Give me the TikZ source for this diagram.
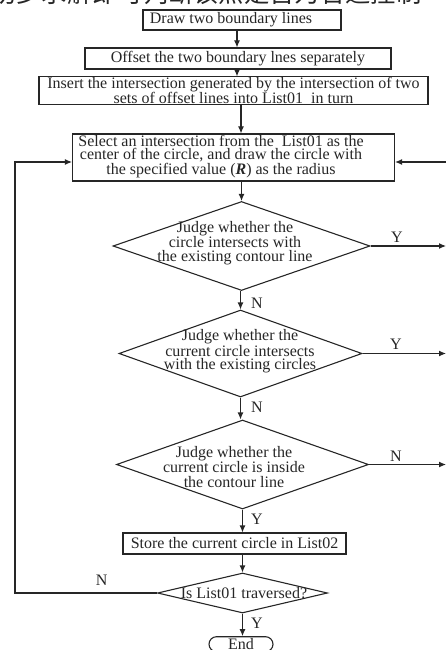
\documentclass[tikz,border=0pt]{standalone}
\usepackage{fontspec}
\setmainfont{Liberation Serif}
\newfontfamily\cjk{Noto Sans CJK SC}
\usetikzlibrary{shapes.geometric,shapes.misc,arrows.meta}
\definecolor{ink}{HTML}{262626}
\begin{document}
\begin{tikzpicture}[x=1pt,y=-1pt,
  every node/.style={text=ink},
  procbox/.style={draw=ink, line width=1.1pt, inner sep=0pt, align=center,
    font=\fontsize{16}{15}\selectfont},
  dia/.style={draw=ink, diamond, line width=1.1pt, inner sep=0pt},
  txt/.style={inner sep=0pt, align=center},
  arr/.style={draw=ink, line width=1.1pt, -{Latex[length=7pt,width=6pt]}},
  lab/.style={inner sep=0pt, font=\fontsize{16}{16}\selectfont}]
\path[use as bounding box] (0,0) rectangle (446,650);
\begin{scope}
\clip (0,0) rectangle (446,650);
% cropped caption line at the top
\node[inner sep=0pt, anchor=base west, font=\cjk\fontsize{25.3}{26}\selectfont] (cap) at (-9,3) {初步求解即可判断该点是否为合适控制};

% boxes
\node[procbox, minimum width=198pt, minimum height=20pt] (b1) at (242,20) {};
\node[txt, font=\fontsize{16}{15}\selectfont] (b1t) at (231,20) {Draw two boundary lines};
\node[procbox, minimum width=306pt, minimum height=21pt] (b2) at (238,58.5) {Offset the two boundary lnes separately};
\node[procbox, minimum width=389pt, minimum height=27pt, font=\fontsize{16}{14.5}\selectfont] (b3) at (233.5,90.5)
  {Insert the intersection generated by the intersection of two\\sets of offset lines into List01\ \ in turn};
\node[procbox, minimum width=322pt, minimum height=47pt] (b4) at (233.5,157.5) {};
\node[txt, font=\fontsize{16}{12.8}\selectfont] (b4t) at (221,156.5)
  {Select an intersection from the\ \ List01 as the\\center of the circle, and draw the circle with\\the specified value (\textbf{\textit{R}}) as the radius};

% decisions
\node[dia, minimum width=257pt, minimum height=89pt] (d1) at (241.5,246) {};
\node[txt, font=\fontsize{16}{13.8}\selectfont] (d1t) at (235,243)
  {Judge whether the\\circle intersects with\\the existing contour line};
\node[dia, minimum width=243pt, minimum height=87pt] (d2) at (240.5,353.5) {};
\node[txt, font=\fontsize{16}{12.8}\selectfont] (d2t) at (240,351)
  {Judge whether the\\current circle intersects\\with the existing circles};
\node[dia, minimum width=252pt, minimum height=89pt] (d3) at (242.5,464.5) {};
\node[txt, font=\fontsize{16}{15}\selectfont] (d3t) at (234,467)
  {Judge whether the\\current circle is inside\\the contour line};

\node[procbox, minimum width=223pt, minimum height=21pt] (b5) at (234.5,543.5) {Store the current circle in List02};
\node[dia, minimum width=170pt, minimum height=40pt] (d4) at (242.5,593) {};
\node[txt, font=\fontsize{16}{15}\selectfont] (d4t) at (244,593) {Is List01 traversed?};
\node[draw=ink, line width=1.1pt, rounded rectangle, inner sep=0pt, minimum width=64pt, minimum height=15pt,
  font=\fontsize{16}{15}\selectfont] (end) at (241,644.2) {End};

% helper coordinates
\coordinate (redge) at (446,0);
\coordinate (rin) at (446,162);
\coordinate (lx) at (15,0);

% main flow
\draw[arr] ([xshift=-5pt]b1.south) -- ([xshift=-5pt]b1.south |- b2.north);
\draw[arr] ([xshift=-1pt]b2.south) -- ([xshift=-1pt]b2.south |- b3.north);
\draw[arr] ([xshift=7.5pt]b3.south) -- ([xshift=7.5pt]b3.south |- b4.north);
\draw[arr] (b4.south -| d1.north) -- (d1.north);
\draw[arr] (d2.north |- d1.south) -- (d2.north);
\draw[arr] (d2.south) -- (d2.south |- d3.north);
\draw[arr] (d3.south) -- (d3.south |- b5.north);
\draw[arr] (b5.south -| d4.north) -- (d4.north);
\draw[arr] (d4.south) -- (d4.south |- end.north);

% right exits
\draw[arr] (d1.east) -- (d1.east -| redge);
\draw[arr] (d2.east) -- (d2.east -| redge);
\draw[arr] (d3.east) -- (d3.east -| redge);
\draw[arr] (rin) -- (rin -| b4.east);

% loop back
\draw[arr] (d4.west) -- (d4.west -| lx) -- (lx |- rin) -- (rin -| b4.west);

% labels
\node[lab] (y1) at (397,237) {Y};
\node[lab] (y2) at (396,344) {Y};
\node[lab] (n3) at (396,456) {N};
\node[lab] (n1) at (257,303) {N};
\node[lab] (n2) at (257,407) {N};
\node[lab] (y3) at (257,519) {Y};
\node[lab] (n4) at (101.7,580) {N};
\node[lab] (y4) at (257,623) {Y};
\end{scope}
\end{tikzpicture}
\end{document}
